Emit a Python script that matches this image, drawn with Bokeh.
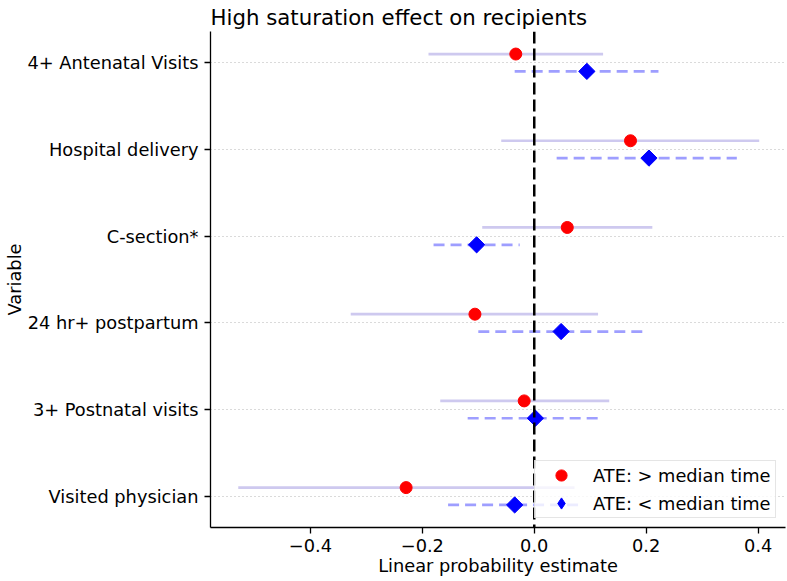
import numpy as np
from bokeh.plotting import figure
from bokeh.models import (Span, Legend, LegendItem, FixedTicker, Range1d,
                          ColumnDataSource)
from bokeh.embed import file_html
from bokeh.resources import INLINE

# ---- data ----
variables = ["4+ Antenatal Visits", "Hospital delivery", "C-section*",
             "24 hr+ postpartum", "3+ Postnatal visits", "Visited physician"]
above_est = [-0.033, 0.172, 0.059, -0.106, -0.018, -0.229]
above_low = [-0.189, -0.059, -0.093, -0.328, -0.168, -0.529]
above_high = [0.123, 0.402, 0.211, 0.114, 0.134, 0.072]
below_est = [0.094, 0.205, -0.103, 0.048, 0.002, -0.035]
below_low = [-0.035, 0.040, -0.180, -0.100, -0.119, -0.154]
below_high = [0.222, 0.362, -0.026, 0.196, 0.124, 0.084]
x_ticks = [-0.4, -0.2, 0.0, 0.2, 0.4]
x_tick_labels = ["\u22120.4", "\u22120.2", "0.0", "0.2", "0.4"]
legend_labels = ["ATE: > median time", "ATE: < median time"]

n = len(variables)
pos = [n - 1 - i for i in range(n)]
offset = 0.1

src_above = ColumnDataSource(dict(
    y=[p_ + offset for p_ in pos], est=above_est, lo=above_low, hi=above_high))
src_below = ColumnDataSource(dict(
    y=[p_ - offset for p_ in pos], est=below_est, lo=below_low, hi=below_high))

FONT = "DejaVu Sans"
FS = "17.8px"

p = figure(width=787, height=581, output_backend="svg", toolbar_location=None,
           x_range=Range1d(-0.5786, 0.449), y_range=Range1d(-0.36, 5.36),
           min_border_left=210, min_border_right=2, min_border_top=31,
           min_border_bottom=54)

p.title.text = "High saturation effect on recipients"
p.title.align = "left"
p.title.text_font = FONT
p.title.text_font_size = "21.3px"
p.title.text_font_style = "normal"
p.title.text_color = "black"
p.title.standoff = 4

p.outline_line_color = None
p.background_fill_color = "white"
p.border_fill_color = "white"

# CI lines
p.segment(x0="lo", x1="hi", y0="y", y1="y", source=src_above,
          line_color="#6a5acd", line_alpha=0.33, line_width=2.7)
p.segment(x0="lo", x1="hi", y0="y", y1="y", source=src_below,
          line_color="blue", line_alpha=0.38, line_width=2.7, line_dash="11 6")

# points
r_above = p.scatter(x="est", y="y", source=src_above, marker="circle",
                    size=12, fill_color="red", line_color="red")
# diamond drawn underneath the rotated squares; used for the legend glyph
r_below_leg = p.scatter(x="est", y="y", source=src_below, marker="diamond",
                        size=14, fill_color="blue", line_color="blue")
r_below = p.scatter(x="est", y="y", source=src_below, marker="square",
                    size=11.5, angle=np.pi / 4, fill_color="blue",
                    line_color="blue")

# zero line
p.add_layout(Span(location=0, dimension="height", line_color="black",
                  line_width=2.5, line_dash="12 5"))

# axes
p.xaxis.ticker = FixedTicker(ticks=x_ticks)
p.xaxis.major_label_overrides = {t: l for t, l in zip(x_ticks, x_tick_labels)}
p.yaxis.ticker = FixedTicker(ticks=pos)
p.yaxis.major_label_overrides = {pp: v for pp, v in zip(pos, variables)}

p.xaxis.axis_label = "Linear probability estimate"
p.yaxis.axis_label = "Variable"
for ax in (p.xaxis[0], p.yaxis[0]):
    ax.axis_label_text_font = FONT
    ax.axis_label_text_font_size = FS
    ax.axis_label_text_font_style = "normal"
    ax.axis_label_text_color = "black"
    ax.major_label_text_font = FONT
    ax.major_label_text_font_size = FS
    ax.major_label_text_color = "black"
    ax.axis_line_color = "black"
    ax.axis_line_width = 1.3
    ax.major_tick_line_color = "black"
    ax.major_tick_line_width = 1.3
    ax.major_tick_out = 6
    ax.major_tick_in = 0
    ax.minor_tick_line_color = None
    ax.major_label_standoff = 6
p.xaxis.major_label_standoff = 5
p.xaxis.axis_label_standoff = 0
p.yaxis.axis_label_standoff = 0

p.xgrid.grid_line_color = None
p.ygrid.grid_line_color = "#b4b4b4"
p.ygrid.grid_line_width = 1
p.ygrid.grid_line_dash = "1 3"

legend = Legend(items=[LegendItem(label=legend_labels[0], renderers=[r_above]),
                       LegendItem(label=legend_labels[1], renderers=[r_below_leg])],
                location="bottom_right")
legend.label_text_font = FONT
legend.label_text_font_size = FS
legend.label_text_color = "black"
legend.border_line_color = "#cccccc"
legend.border_line_width = 1
legend.background_fill_color = "white"
legend.background_fill_alpha = 0.8
legend.margin = 9
legend.padding = 0
legend.spacing = 0
legend.glyph_height = 28
legend.label_height = 28
legend.glyph_width = 52
legend.label_standoff = 6
legend.label_width = 182
p.add_layout(legend)

open("out.html", "w").write(file_html(p, INLINE))
